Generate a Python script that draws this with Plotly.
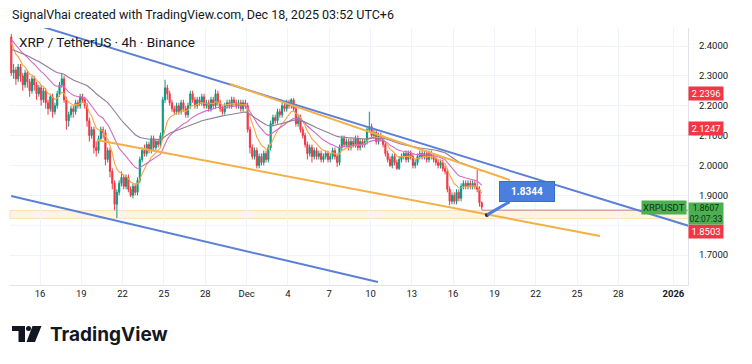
import pandas as pd
import plotly.graph_objects as go

# ---------------- data ----------------
# 4h candles (UTC+6), visible window starts 2025-11-13 22:00
pre_closes = [2.28, 2.30, 2.33, 2.31, 2.35, 2.38, 2.41, 2.45, 2.52, 2.56,
              2.54, 2.51, 2.49, 2.52, 2.50, 2.47, 2.45, 2.43, 2.46, 2.44,
              2.41, 2.43, 2.45, 2.42, 2.44, 2.46, 2.44, 2.42, 2.44, 2.43]
first_open = 2.43
closes = [2.31, 2.32, 2.29, 2.33, 2.30, 2.27, 2.31, 2.28, 2.25, 2.29,
          2.27, 2.24, 2.26, 2.22, 2.25, 2.21, 2.19, 2.23, 2.18, 2.20,
          2.24, 2.27, 2.29, 2.22, 2.15, 2.17, 2.19, 2.18, 2.21, 2.20,
          2.23, 2.22, 2.20, 2.15, 2.10, 2.12, 2.06, 2.05, 2.09, 2.12,
          2.11, 2.02, 2.05, 1.98, 1.94, 1.87, 1.91, 1.94, 1.96, 1.93,
          1.96, 1.92, 1.90, 1.93, 1.91, 1.95, 2.02, 2.05, 2.04, 2.07,
          2.05, 2.09, 2.06, 2.08, 2.07, 2.10, 2.22, 2.26, 2.24, 2.21,
          2.19, 2.18, 2.20, 2.18, 2.21, 2.19, 2.17, 2.20, 2.24, 2.22,
          2.20, 2.22, 2.21, 2.23, 2.20, 2.21, 2.19, 2.22, 2.20, 2.24,
          2.21, 2.19, 2.18, 2.20, 2.21, 2.20, 2.22, 2.21, 2.20, 2.21,
          2.19, 2.21, 2.20, 2.12, 2.06, 2.03, 2.05, 2.00, 2.03, 2.01,
          2.04, 2.02, 2.06, 2.14, 2.16, 2.15, 2.18, 2.17, 2.20, 2.19,
          2.21, 2.20, 2.22, 2.19, 2.14, 2.16, 2.12, 2.10, 2.07, 2.04,
          2.06, 2.03, 2.05, 2.03, 2.04, 2.02, 2.03, 2.04, 2.02, 2.03,
          2.05, 2.03, 2.01, 2.06, 2.09, 2.07, 2.08, 2.06, 2.08, 2.07,
          2.09, 2.06, 2.08, 2.07, 2.08, 2.12, 2.13, 2.10, 2.11, 2.08,
          2.10, 2.09, 2.07, 2.04, 2.02, 2.00, 2.03, 2.01, 1.99, 2.02,
          2.03, 2.04, 2.02, 2.04, 2.03, 2.00, 2.01, 2.03, 2.04, 2.03,
          2.04, 2.02, 2.04, 2.03, 2.02, 2.01, 2.00, 2.01, 1.99, 1.98,
          1.92, 1.88, 1.90, 1.88, 1.91, 1.89, 1.93, 1.94, 1.93, 1.94,
          1.93, 1.94, 1.93, 1.92, 1.875, 1.8607]
highs = [2.44, 2.34, 2.33, 2.34, 2.34, 2.31, 2.32, 2.32, 2.29, 2.30,
         2.30, 2.28, 2.27, 2.27, 2.26, 2.26, 2.22, 2.24, 2.24, 2.21,
         2.25, 2.28, 2.31, 2.30, 2.23, 2.18, 2.20, 2.20, 2.22, 2.22,
         2.24, 2.24, 2.23, 2.21, 2.16, 2.13, 2.13, 2.08, 2.10, 2.13,
         2.13, 2.12, 2.06, 2.06, 1.99, 1.95, 1.92, 1.95, 1.98, 1.97,
         1.97, 1.97, 1.93, 1.94, 1.94, 1.96, 2.03, 2.06, 2.07, 2.08,
         2.08, 2.10, 2.10, 2.09, 2.09, 2.11, 2.23, 2.287, 2.27, 2.25,
         2.22, 2.20, 2.21, 2.21, 2.22, 2.22, 2.20, 2.21, 2.25, 2.25,
         2.23, 2.23, 2.23, 2.24, 2.24, 2.22, 2.22, 2.23, 2.23, 2.255,
         2.25, 2.22, 2.20, 2.21, 2.22, 2.22, 2.23, 2.23, 2.22, 2.22,
         2.22, 2.22, 2.22, 2.21, 2.13, 2.07, 2.06, 2.06, 2.04, 2.04,
         2.05, 2.05, 2.07, 2.15, 2.17, 2.17, 2.19, 2.19, 2.21, 2.21,
         2.22, 2.22, 2.225, 2.225, 2.20, 2.17, 2.17, 2.13, 2.11, 2.08,
         2.07, 2.07, 2.06, 2.06, 2.05, 2.05, 2.04, 2.05, 2.05, 2.04,
         2.06, 2.06, 2.04, 2.07, 2.10, 2.10, 2.09, 2.09, 2.09, 2.09,
         2.10, 2.10, 2.09, 2.09, 2.09, 2.13, 2.18, 2.14, 2.12, 2.12,
         2.11, 2.11, 2.10, 2.08, 2.05, 2.03, 2.04, 2.04, 2.02, 2.03,
         2.04, 2.045, 2.05, 2.05, 2.05, 2.04, 2.02, 2.04, 2.05, 2.05,
         2.05, 2.05, 2.05, 2.05, 2.04, 2.03, 2.02, 2.02, 2.02, 2.00,
         1.99, 1.93, 1.91, 1.91, 1.92, 1.92, 1.94, 1.95, 1.95, 1.95,
         1.95, 1.95, 1.95, 1.985, 1.93, 1.88]
lows = [2.30, 2.29, 2.27, 2.28, 2.28, 2.25, 2.26, 2.26, 2.23, 2.24,
        2.25, 2.22, 2.23, 2.20, 2.21, 2.19, 2.17, 2.18, 2.16, 2.17,
        2.19, 2.23, 2.26, 2.21, 2.12, 2.13, 2.16, 2.16, 2.17, 2.19,
        2.19, 2.21, 2.19, 2.13, 2.08, 2.09, 2.04, 2.03, 2.04, 2.08,
        2.09, 2.00, 2.01, 1.96, 1.92, 1.85, 1.824, 1.90, 1.93, 1.92,
        1.92, 1.91, 1.894, 1.89, 1.90, 1.90, 1.94, 2.01, 2.03, 2.03,
        2.04, 2.04, 2.05, 2.05, 2.06, 2.06, 2.09, 2.21, 2.22, 2.20,
        2.18, 2.17, 2.17, 2.17, 2.17, 2.18, 2.16, 2.16, 2.19, 2.21,
        2.19, 2.19, 2.20, 2.20, 2.19, 2.19, 2.18, 2.18, 2.19, 2.19,
        2.20, 2.18, 2.17, 2.17, 2.19, 2.19, 2.19, 2.20, 2.19, 2.19,
        2.18, 2.18, 2.19, 2.11, 2.04, 2.02, 2.02, 1.99, 1.99, 2.00,
        2.00, 2.01, 2.01, 2.05, 2.13, 2.14, 2.14, 2.16, 2.16, 2.18,
        2.18, 2.19, 2.19, 2.18, 2.13, 2.13, 2.11, 2.09, 2.06, 2.02,
        2.03, 2.01, 2.02, 2.02, 2.02, 2.01, 2.01, 2.02, 2.01, 2.01,
        2.02, 2.02, 1.995, 2.00, 2.05, 2.06, 2.06, 2.05, 2.05, 2.06,
        2.06, 2.05, 2.05, 2.06, 2.06, 2.07, 2.11, 2.09, 2.09, 2.07,
        2.07, 2.08, 2.06, 2.03, 2.01, 1.995, 1.99, 2.00, 1.985, 1.985,
        2.01, 2.02, 2.01, 2.01, 2.02, 1.99, 1.99, 2.00, 2.02, 2.02,
        2.02, 2.01, 2.01, 2.02, 2.01, 2.00, 1.99, 1.99, 1.98, 1.97,
        1.91, 1.867, 1.87, 1.87, 1.87, 1.88, 1.88, 1.92, 1.92, 1.92,
        1.92, 1.92, 1.92, 1.91, 1.862, 1.852]

tick_dates = ['2025-11-16', '2025-11-19', '2025-11-22', '2025-11-25', '2025-11-28',
              '2025-12-01', '2025-12-04', '2025-12-07', '2025-12-10', '2025-12-13',
              '2025-12-16', '2025-12-19', '2025-12-22', '2025-12-25', '2025-12-28',
              '2026-01-01']
tick_labels = ['16', '19', '22', '25', '28', 'Dec', '4', '7', '10', '13',
               '16', '19', '22', '25', '28', '<b>2026</b>']
price_ticks = [1.7, 1.9, 2.0, 2.1, 2.2, 2.3, 2.4]
grid_prices = [1.7, 1.8, 1.9, 2.0, 2.1, 2.2, 2.3, 2.4]

# drawings (endpoints: time, price)
blue_upper_t = ['2025-11-16 05:00', '2026-01-02 02:00']
blue_upper_p = [2.464, 1.798]
blue_lower_t = ['2025-11-13 21:50', '2025-12-10 13:00']
blue_lower_p = [1.8977, 1.6096]
orange_lower_t = ['2025-11-20 03:20', '2025-12-26 16:00']
orange_lower_p = [2.0852, 1.7637]
orange_upper_t = ['2025-11-29 19:10', '2025-12-20 03:10']
orange_upper_p = [2.2727, 1.9512]
zone = [1.822, 1.849]
level_line = 1.8503
callout_t = '2025-12-18 11:00'
callout_p = 1.8344
last_price = 1.8607
countdown = '02:07:33'
axis_labels_red = [2.2396, 2.1247]
ema_spans = [9, 21, 50]
ema_colors = ['#f5a742', '#d46bc8', '#8f7d99']

# ---------------- build ----------------
start = pd.Timestamp('2025-11-13 22:00')
times = pd.date_range(start, periods=len(closes), freq='4h')
opens = [first_open] + closes[:-1]

x_range = ['2025-11-13 19:43', '2026-01-02 01:26']

fig = go.Figure()

fig.add_shape(type='rect', xref='paper', x0=0, x1=1, yref='y', y0=zone[0], y1=zone[1],
              fillcolor='rgba(255,200,130,0.22)', line=dict(color='rgba(255,185,100,0.4)', width=1),
              layer='below')
# grid line for the price level whose label is hidden behind the price-scale labels
fig.add_shape(type='line', xref='paper', x0=0, x1=1, yref='y', y0=1.8, y1=1.8,
              line=dict(color='#f0f3fa', width=1), layer='below')

all_close = pd.Series(pre_closes + closes)
for span, col in zip(ema_spans, ema_colors):
    ema = all_close.ewm(span=span, adjust=False).mean().iloc[len(pre_closes):]
    fig.add_trace(go.Scatter(x=times, y=ema.values, mode='lines',
                             line=dict(color=col, width=1.1), hoverinfo='skip'))

fig.add_trace(go.Candlestick(
    x=times, open=opens, high=highs, low=lows, close=closes,
    increasing=dict(line=dict(color='#089981', width=1), fillcolor='#089981'),
    decreasing=dict(line=dict(color='#f23645', width=1), fillcolor='#f23645'),
    whiskerwidth=0, hoverinfo='skip'))

fig.add_trace(go.Scatter(x=[times[-1], x_range[1]], y=[level_line, level_line], mode='lines',
                         line=dict(color='rgba(190,110,140,0.85)', width=1), hoverinfo='skip'))

for tt, pp, col in [(blue_upper_t, blue_upper_p, '#5b80d6'), (blue_lower_t, blue_lower_p, '#5b80d6'),
                    (orange_lower_t, orange_lower_p, '#f3b044'), (orange_upper_t, orange_upper_p, '#f3b044')]:
    fig.add_trace(go.Scatter(x=tt, y=pp, mode='lines', line=dict(color=col, width=2), hoverinfo='skip'))

fig.add_trace(go.Scatter(x=[callout_t], y=[callout_p], mode='markers',
                         marker=dict(color='#222', size=4), hoverinfo='skip'))
fig.add_annotation(x=callout_t, y=callout_p, xref='x', yref='y', text='<b>%.4f</b>' % callout_p,
                   showarrow=True, ax=40, ay=-23, arrowhead=0, arrowwidth=3, arrowcolor='#4a7fe0',
                   standoff=0, bgcolor='#4a7fe0', bordercolor='#3a6ccc', borderwidth=1, borderpad=4,
                   font=dict(color='white', size=10, family='Roboto'), width=46)

FONT = 'Roboto, Noto Sans, sans-serif'
fig.add_annotation(xref='paper', yref='paper', x=0, y=1.052, xanchor='left', yanchor='middle',
                   text='SignalVhai created with TradingView.com, Dec 18, 2025 03:52 UTC+6',
                   showarrow=False, font=dict(size=12.5, color='#131722', family=FONT))
fig.add_annotation(xref='paper', yref='paper', x=0.01, y=0.946, xanchor='left', yanchor='middle',
                   text='XRP / TetherUS · 4h · Binance',
                   showarrow=False, font=dict(size=13.5, color='#131722', family=FONT))

LBL = 9.5
for v in axis_labels_red:
    fig.add_annotation(xref='paper', yref='y', x=1.0, y=v, xanchor='left', yanchor='middle',
                       text='%.4f' % v, showarrow=False, bgcolor='#f23645', borderpad=1,
                       font=dict(size=LBL, color='white', family=FONT), width=32)
fig.add_annotation(xref='paper', yref='y', x=1.0, y=level_line, xanchor='left', yanchor='top',
                   yshift=-14, text='%.4f' % level_line, showarrow=False, bgcolor='#f23645', borderpad=1,
                   font=dict(size=LBL, color='white', family=FONT), width=32)
fig.add_annotation(xref='paper', yref='y', x=1.0, y=last_price, xanchor='left', yanchor='top',
                   yshift=5, text='%.4f<br>%s' % (last_price, countdown), showarrow=False,
                   bgcolor='#4caf50', borderpad=0,
                   font=dict(size=8.5, color='#10301a', family=FONT), width=34)
fig.add_annotation(xref='paper', yref='y', x=0.999, y=last_price, xanchor='right', yanchor='middle',
                   text='XRPUSDT', showarrow=False, bgcolor='#4caf50', borderpad=1,
                   font=dict(size=LBL, color='#10301a', family=FONT))

# TradingView logo (paper coords from window pixels)
def px(x):
    return (x - 10) / 678
def py(y):
    return (285 - y) / 257

logo_t = 'M %f %f L %f %f L %f %f L %f %f L %f %f L %f %f Z' % (
    px(12), py(326), px(25), py(326), px(25), py(342), px(18.5), py(342),
    px(18.5), py(331), px(12), py(331))
fig.add_shape(type='path', xref='paper', yref='paper', path=logo_t, fillcolor='#131722', line=dict(width=0))
fig.add_shape(type='circle', xref='paper', yref='paper', x0=px(26), x1=px(31), y0=py(331), y1=py(326),
              fillcolor='#131722', line=dict(width=0))
logo_s = 'M %f %f L %f %f L %f %f L %f %f Z' % (px(32.5), py(326), px(41.5), py(326),
                                               px(35), py(342), px(26.5), py(342))
fig.add_shape(type='path', xref='paper', yref='paper', path=logo_s, fillcolor='#131722', line=dict(width=0))
fig.add_annotation(xref='paper', yref='paper', x=px(48), y=py(334), xanchor='left', yanchor='middle',
                   text='<b>TradingView</b>', showarrow=False,
                   font=dict(size=19, color='#131722', family='Inter, Roboto, sans-serif'))

# page body has an 8px margin: figure 744x356 placed at (8,8)
fig.update_layout(
    width=744, height=356, margin=dict(l=2, r=64, t=20, b=79),
    paper_bgcolor='white', plot_bgcolor='white', showlegend=False, hovermode=False,
    xaxis=dict(type='date', range=x_range, tickvals=tick_dates, ticktext=tick_labels,
               showgrid=True, gridcolor='#f0f3fa', showline=True, linecolor='#e0e3eb',
               ticks='', tickfont=dict(size=LBL, color='#131722', family=FONT),
               rangeslider=dict(visible=False), zeroline=False),
    yaxis=dict(side='right', range=[1.5996, 2.4603], tickvals=price_ticks, tickformat='.4f',
               showgrid=True, gridcolor='#f0f3fa', showline=True, linecolor='#e0e3eb',
               ticks='outside', ticklen=8, tickcolor='rgba(0,0,0,0)',
               tickfont=dict(size=LBL, color='#131722', family=FONT), zeroline=False),
)

fig.write_html('out.html')
